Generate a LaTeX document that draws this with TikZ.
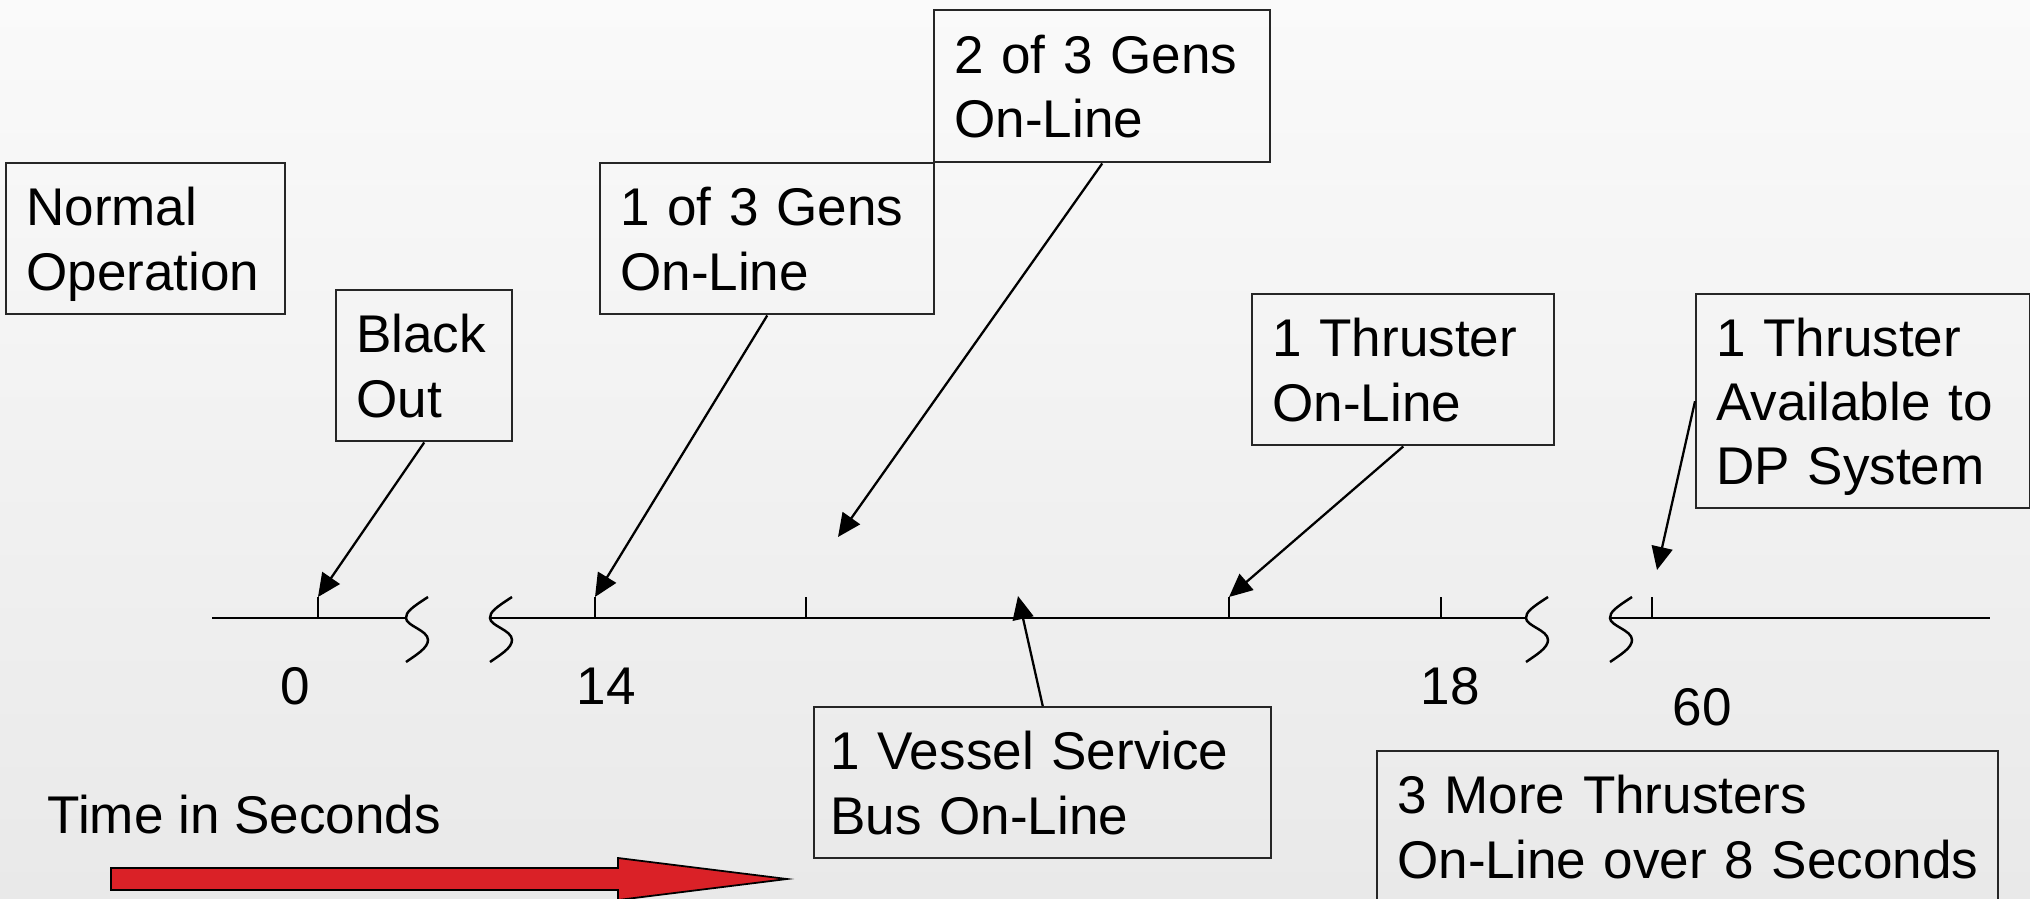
\documentclass[tikz,border=0pt]{standalone}
\usepackage{fontspec}
\setmainfont{Liberation Sans}
\usetikzlibrary{arrows.meta}

\begin{document}
\begin{tikzpicture}

%Defining colors
\definecolor{BgTop}{RGB}{250,250,250}
\definecolor{BgBottom}{RGB}{233,233,233}
\definecolor{ArrowRed}{RGB}{218,33,39}
\colorlet{BoxLine}{black!85}

\tikzset{
  evbox/.style={draw=BoxLine, line width=0.7pt, anchor=north west, align=left,
    inner xsep=0.2cm, text depth=18.3pt, font=\fontsize{15.1}{18.3}\selectfont},
  evlabel/.style={font=\fontsize{15.1}{18.3}\selectfont},
  evarrow/.style={line width=0.65pt, -{Triangle[length=6.6pt,width=6pt]}}
}

%Background
\useasboundingbox (0,0) rectangle (20.30,-8.98);
\shade[top color=BgTop,bottom color=BgBottom] (0,0) rectangle (20.30,-8.98);

%Time axis
\draw[line width=0.7pt] (2.12,-6.18) -- (4.06,-6.18);
\draw[line width=0.7pt] (4.90,-6.18) -- (15.26,-6.18);
\draw[line width=0.7pt] (16.10,-6.18) -- (19.90,-6.18);

%Break marks
\foreach \xl in {4.06,4.90,15.26,16.10}
  \draw[line width=0.7pt] (\xl+0.22,-5.97) .. controls (\xl+0.05,-6.08) and (\xl,-6.12) .. (\xl,-6.18)
    .. controls (\xl,-6.26) and (\xl+0.22,-6.30) .. (\xl+0.22,-6.40)
    .. controls (\xl+0.22,-6.48) and (\xl+0.10,-6.55) .. (\xl,-6.62);

%Ticks
\foreach \x/\n in {3.18/t0,5.95/t14,8.06/t15,12.29/t17,14.41/t18,16.52/t60}{
  \draw[line width=0.6pt] (\x,-5.97) -- (\x,-6.18);
  \coordinate (\n) at (\x,-5.97);
}

%Axis numbers
\node[evlabel] (n0) at (2.95,-6.86) {0};
\node[evlabel] (n14) at (6.06,-6.86) {14};
\node[evlabel] (n18) at (14.50,-6.86) {18};
\node[evlabel] (n60) at (17.02,-7.07) {60};

%Event boxes
\node[evbox, text width=2.39cm, minimum height=1.51cm] (normal) at (0.05,-1.62) {Normal\\Operation};
\node[evbox, text width=1.36cm, minimum height=1.51cm] (blackout) at (3.35,-2.89) {Black\\Out};
\node[evbox, text width=2.94cm, minimum height=1.51cm] (gensone) at (5.99,-1.62) {1 of 3 Gens\\On-Line};
\node[evbox, text width=2.96cm, minimum height=1.52cm] (genstwo) at (9.33,-0.09) {2 of 3 Gens\\On-Line};
\node[evbox, text width=2.62cm, minimum height=1.51cm] (throne) at (12.51,-2.93) {1 Thruster\\On-Line};
\node[evbox, text width=2.94cm, minimum height=2.14cm, text depth=36.6pt] (thrdp) at (16.95,-2.93) {1 Thruster\\Available to\\DP System};
\node[evbox, text width=4.25cm, inner xsep=0.16cm, minimum height=1.51cm] (vessel) at (8.13,-7.06) {\mbox{1 Vessel Service}\\Bus On-Line};
\node[evbox, text width=5.81cm, minimum height=1.51cm] (more) at (13.76,-7.50) {3 More Thrusters\\\mbox{On-Line over 8 Seconds}};

%Free arrow ends
\coordinate (gtip) at (8.38,-5.37);
\coordinate (vtip) at (10.18,-5.96);
\coordinate (dptip) at (16.57,-5.70);

%Arrows
\draw[evarrow] (blackout.south) -- (t0);
\draw[evarrow] (gensone.south) -- (t14);
\draw[evarrow] (genstwo.south) -- (gtip);
\draw[evarrow] (throne.south) -- (t17);
\draw[evarrow] (vessel.north) -- (vtip);
\draw[evarrow] (thrdp.west) -- (dptip);

%Time direction
\node[evlabel, anchor=base west, inner sep=0pt] (timelbl) at (0.47,-8.33) {Time in Seconds};
\draw[fill=ArrowRed, line width=0.5pt] (1.11,-8.68) -- (6.18,-8.68) -- (6.18,-8.58) -- (7.87,-8.79)
  -- (6.18,-9.00) -- (6.18,-8.90) -- (1.11,-8.90) -- cycle;

\end{tikzpicture}
\end{document}
